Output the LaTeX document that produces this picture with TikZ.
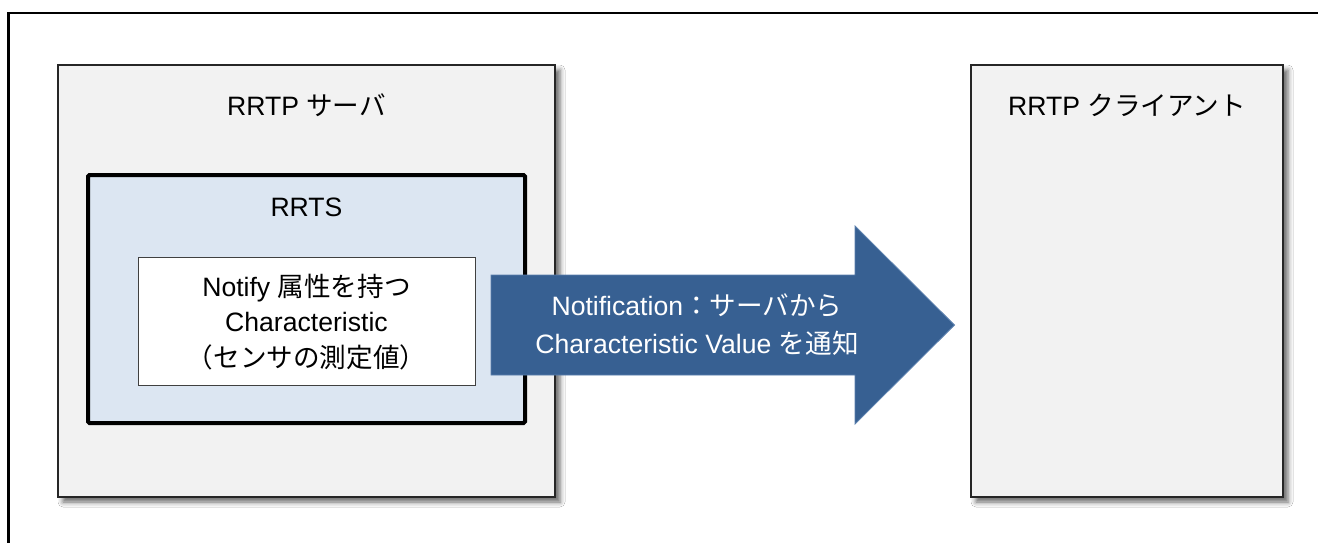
\documentclass[tikz,border=0pt]{standalone}
\usepackage{fontspec}
\setmainfont{Liberation Sans}
\newfontfamily\jp{Noto Sans CJK JP}
\usetikzlibrary{shadows.blur}
\definecolor{boxgray}{HTML}{F2F2F2}
\definecolor{rrtsblue}{HTML}{DCE6F2}
\definecolor{arrowblue}{HTML}{376092}
\definecolor{arrowedge}{HTML}{5A7FAD}
\begin{document}
\begin{tikzpicture}[x=1pt,y=-1pt,
  every node/.style={inner sep=0pt, outer sep=0pt},
  txt/.style={font=\fontsize{26.6}{36}\selectfont, align=center},
  hostbox/.style={draw=black!85, line width=1.3pt, fill=boxgray,
    blur shadow={shadow xshift=5pt, shadow yshift=-5pt, shadow blur radius=5pt, shadow opacity=60}},
  svcbox/.style={draw=black, line width=4pt, rounded corners=1.5pt, fill=rrtsblue},
  charbox/.style={draw=black!75, line width=0.9pt, fill=white},
  flowarrow/.style={fill=arrowblue, draw=arrowedge, line width=0.8pt}]
\useasboundingbox (0,0) rectangle (1318,542);
\fill[white] (0,0) rectangle (1318,542);
% outer frame
\draw[line width=2.2pt] (8.5,560) -- (8.5,13) -- (1330,13);
% hosts
\node[hostbox, minimum width=497pt, minimum height=432pt] (server) at (306.5,281) {};
\node[hostbox, minimum width=312pt, minimum height=432pt] (client) at (1127,281) {};
\node[txt, anchor=base] (servertitle) at (306.5,115) {RRTP {\jp サーバ}};
\node[txt, anchor=base] (clienttitle) at (1127,115) {RRTP {\jp クライアント}};
% service
\node[svcbox, minimum width=437pt, minimum height=248pt] (rrts) at (306.5,299) {};
\node[txt, anchor=base] (rrtstitle) at (306.5,216) {RRTS};
\node[charbox, minimum width=337pt, minimum height=128pt] (char) at (306.5,321) {};
\node[txt, font=\fontsize{26.6}{35.5}\selectfont] (chartext) at (306.5,322)
  {Notify {\jp 属性を持つ}\\Characteristic\\{\jp （センサの測定値）}};
% notification arrow
\coordinate (tip) at (954.5,325);
\draw[flowarrow] (491,275) -- (855,275) -- (855,226) -- (tip) -- (855,424) -- (855,375) -- (491,375) -- cycle;
\node[txt, text=white, font=\fontsize{26.6}{38}\selectfont] (notif) at (697,325)
  {Notification{\jp ：サーバから}\\Characteristic Value {\jp を通知}};
\end{tikzpicture}
\end{document}
